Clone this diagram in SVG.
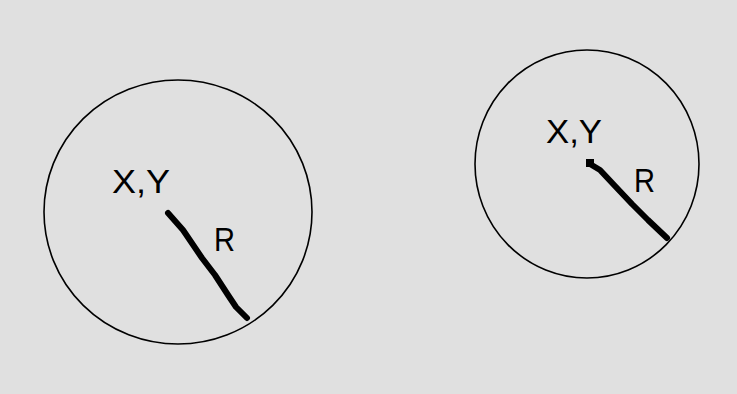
<svg xmlns="http://www.w3.org/2000/svg" width="737" height="394" viewBox="0 0 737 394">
<style>
.circ{fill:none;stroke:#000;stroke-width:1.6}
.rad{fill:none;stroke:#000;stroke-width:6;stroke-linecap:round;stroke-linejoin:round}
.lbl{font-family:"Liberation Sans",Arial,sans-serif;fill:#000}
</style>
<rect x="0" y="0" width="737" height="394" fill="#e0e0e0"/>
<g id="circle-left">
<ellipse class="circ" cx="178" cy="212" rx="134" ry="132"/>
<text class="lbl" x="112" y="193" font-size="34" textLength="58" lengthAdjust="spacingAndGlyphs">X,Y</text>
<text class="lbl" x="214" y="251" font-size="33" textLength="21" lengthAdjust="spacingAndGlyphs">R</text>
</g>
<g id="circle-right">
<ellipse class="circ" cx="587" cy="164" rx="112" ry="114"/>
<text class="lbl" x="546" y="143" font-size="33" textLength="56" lengthAdjust="spacingAndGlyphs">X,Y</text>
<text class="lbl" x="634" y="192" font-size="33" textLength="21" lengthAdjust="spacingAndGlyphs">R</text>
</g>
<g id="connectors">
<path class="rad" d="M168,213 L183,230 L202,258 L215,275 L228,295 L236,307 L247,318"/>
<path class="rad" d="M590,164 L600,170 L615,186 L632,204 L648,220 L667,238" stroke-linecap="butt"/>
<rect x="586" y="159" width="8" height="8" fill="#000"/>
</g>
</svg>
